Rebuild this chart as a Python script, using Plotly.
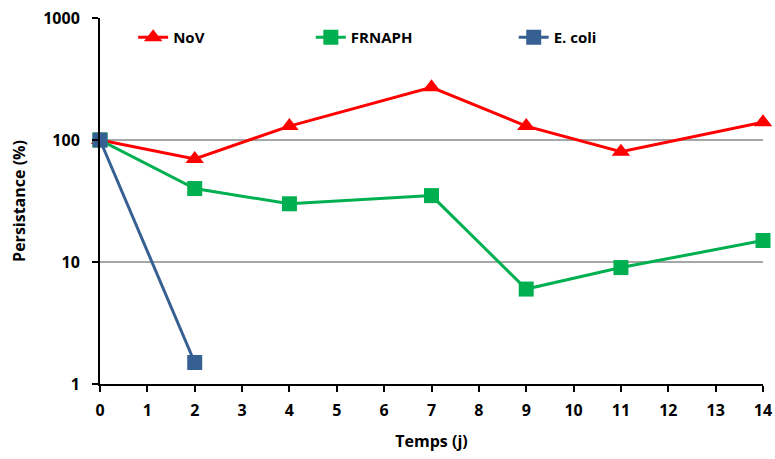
import plotly.graph_objects as go

x_nov = [0, 2, 4, 7, 9, 11, 14]
y_nov = [100, 70, 130, 270, 130, 80, 140]
x_frn = [0, 2, 4, 7, 9, 11, 14]
y_frn = [100, 40, 30, 35, 6, 9, 15]
x_eco = [0, 2]
y_eco = [100, 1.5]
x_ticks = list(range(0, 15))
y_ticks = [1, 10, 100, 1000]

FONT = "Open Sans"
fig = go.Figure()
fig.add_trace(go.Scatter(x=x_nov, y=y_nov, name="<b>NoV</b>", mode="lines+markers",
                         line=dict(color="#FF0000", width=3),
                         marker=dict(symbol="triangle-up", size=16, color="#FF0000"),
                         cliponaxis=False, legend="legend", showlegend=True))
fig.add_trace(go.Scatter(x=x_frn, y=y_frn, name="<b>FRNAPH</b>", mode="lines+markers",
                         line=dict(color="#00B050", width=3),
                         marker=dict(symbol="square", size=15, color="#00B050"),
                         cliponaxis=False, legend="legend2", showlegend=True))
fig.add_trace(go.Scatter(x=x_eco, y=y_eco, name="<b>E. coli</b>", mode="lines+markers",
                         line=dict(color="#376092", width=3),
                         marker=dict(symbol="square", size=15, color="#376092"),
                         cliponaxis=False, legend="legend3", showlegend=True))

leg = dict(font=dict(family=FONT, size=15, color="black"), bgcolor="rgba(0,0,0,0)",
           yanchor="middle", y=0.947, xanchor="left", itemwidth=30, orientation="h")
fig.update_layout(
    width=775, height=459,
    showlegend=True,
    margin=dict(l=100, r=12, t=18, b=75),
    paper_bgcolor="white", plot_bgcolor="white",
    font=dict(family=FONT, color="black"),
    legend=dict(leg, x=0.05),
    legend2=dict(leg, x=0.318),
    legend3=dict(leg, x=0.624),
    xaxis=dict(range=[0, 14], tickvals=x_ticks, ticktext=[f"<b>{v}</b>" for v in x_ticks],
               showgrid=False, zeroline=False, showline=True, linecolor="black", linewidth=2,
               ticks="outside", ticklen=6, tickwidth=2, tickcolor="black", automargin=False,
               ticklabelstandoff=5,
               tickfont=dict(family=FONT, size=16, color="black"),
               title=dict(text="<b>Temps (j)</b>", font=dict(family=FONT, size=16), standoff=16)),
    yaxis=dict(type="log", range=[0, 3], tickvals=y_ticks, ticktext=[f"<b>{v}</b>" for v in y_ticks],
               showgrid=True, gridcolor="#A6A6A6", gridwidth=1.5, zeroline=False,
               showline=True, linecolor="black", linewidth=2, automargin=False,
               ticks="outside", ticklen=6, tickwidth=2, tickcolor="black",
               ticklabelstandoff=9,
               tickfont=dict(family=FONT, size=16, color="black"),
               title=dict(text="<b>Persistance (%)</b>", font=dict(family=FONT, size=16), standoff=14)),
)
fig.write_html("out.html", config={"displayModeBar": False},
               post_script="document.body.style.margin='0px';")
